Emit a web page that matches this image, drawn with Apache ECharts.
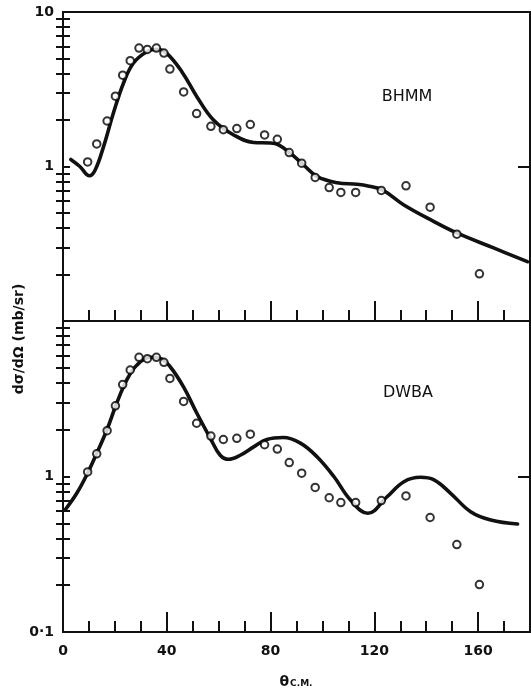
<!DOCTYPE html>
<html>
<head>
<meta charset="utf-8">
<script src="https://cdn.jsdelivr.net/npm/echarts@6/dist/echarts.min.js"></script>
<style>
html,body{margin:0;padding:0;background:#fff;}
#chart{width:531px;height:692px;}
</style>
</head>
<body>
<div id="chart"></div>
<script>
// experimental points (same data in both panels)
const thetaExp = [9.5,13,17,20.2,23,25.9,29.3,32.5,36,38.9,41.2,46.5,51.5,57,61.8,67,72.2,77.7,82.6,87.2,92,97.2,102.6,107.1,112.8,122.7,132.2,141.5,151.8,160.5];
const sigmaExp = [1.07,1.40,1.97,2.85,3.90,4.84,5.84,5.72,5.84,5.42,4.27,3.04,2.20,1.82,1.73,1.76,1.87,1.60,1.50,1.23,1.05,0.85,0.73,0.68,0.68,0.70,0.75,0.545,0.365,0.202];

// BHMM calculation (top panel)
const thetaBHMM = [3,6.5,10.2,12.4,15.6,19.4,23.3,27.1,32.3,36.2,40,45.8,51.6,58,65.8,73.5,80,83.1,87.6,92.8,98,105.7,113.4,118,123.1,131.4,143,152,166.2,179];
const sigmaBHMM = [1.11,1.0,0.871,0.95,1.34,2.21,3.46,4.66,5.53,5.74,5.40,4.11,2.83,2.00,1.60,1.43,1.42,1.38,1.22,1.02,0.859,0.785,0.767,0.745,0.705,0.563,0.44,0.37,0.296,0.242];

// DWBA calculation (bottom panel)
const thetaDWBA = [0.8,5.3,9.1,13,16.9,20.7,24.6,28.5,33.6,37.5,41.3,46.4,51.6,56.8,60.6,63.8,68.3,73.5,78.6,84.9,91.5,97.9,104.4,110.8,117.5,124.9,131.4,137.8,143,149.4,157.1,164.9,175.2];
const sigmaDWBA = [0.609,0.78,1.02,1.41,1.99,2.96,4.18,5.21,5.84,5.75,5.08,3.78,2.55,1.76,1.37,1.29,1.37,1.55,1.73,1.78,1.64,1.34,1.0,0.706,0.58,0.741,0.926,0.988,0.95,0.78,0.594,0.525,0.495];

// axis ticks
const xLabels = [0,40,80,120,160];
const xMajor = [40,80,120,160];
const xMinor = [10,20,30,50,60,70,90,100,110,130,140,150,170];
const yDecades = [0.1,1,10];
const yMinors = [0.2,0.3,0.4,0.5,0.6,0.7,0.8,0.9,2,3,4,5,6,7,8,9];
const yAll = [0.1,0.2,0.3,0.4,0.5,0.6,0.7,0.8,0.9,1,2,3,4,5,6,7,8,9,10];
const topYLabels = [1,10];
const bottomYLabels = [0.1,1];

const zip = (a,b) => a.map((v,i)=>[v,b[i]]);
const FONT = 'DejaVu Sans';
const INK = '#111';

function xAxes(g, showLabels){
  return [
    {type:'value', gridIndex:g, position:'bottom', min:0, max:180, interval:10,
     axisLine:{show:true, onZero:false, lineStyle:{color:INK,width:2}},
     axisTick:{show:true, inside:true, length:11, customValues:xMinor, lineStyle:{color:INK,width:2}},
     axisLabel:{show:showLabels, customValues:xLabels, margin:12, color:INK, fontFamily:FONT, fontWeight:'bold', fontSize:14},
     splitLine:{show:false}},
    {type:'value', gridIndex:g, position:'bottom', offset:0, min:0, max:180, interval:10,
     axisLine:{show:false, onZero:false},
     axisTick:{show:true, inside:true, length:20, customValues:xMajor, lineStyle:{color:INK,width:2}},
     axisLabel:{show:false}, splitLine:{show:false}}
  ];
}
function yAxes(g, labels){
  return [
    {type:'log', logBase:10, gridIndex:g, min:0.1, max:10, position:'left',
     axisLine:{show:true, lineStyle:{color:INK,width:2}},
     axisTick:{show:true, inside:true, length:7, customValues:yAll, lineStyle:{color:INK,width:2}},
     axisLabel:{show:true, customValues:labels, margin:9, color:INK, fontFamily:FONT, fontWeight:'bold', fontSize:14,
       formatter: v => (v < 0.5 ? '0·1' : String(Math.round(v)))},
     splitLine:{show:false}},
    {type:'log', logBase:10, gridIndex:g, min:0.1, max:10, position:'right',
     axisLine:{show:true, lineStyle:{color:INK,width:2}},
     axisTick:{show:true, inside:true, length:7, customValues:yMinors, lineStyle:{color:INK,width:2}},
     axisLabel:{show:false}, splitLine:{show:false}},
    {type:'log', logBase:10, gridIndex:g, min:0.1, max:10, position:'right', offset:0,
     axisLine:{show:false},
     axisTick:{show:true, inside:true, length:12, customValues:yDecades, lineStyle:{color:INK,width:2}},
     axisLabel:{show:false}, splitLine:{show:false}}
  ];
}

const lineStyle = {color:INK, width:3.6, cap:'round', join:'round'};
const pointStyle = {color:'#fff', borderColor:'#000', borderWidth:2};

const chart = echarts.init(document.getElementById('chart'), null, {renderer:'canvas'});
chart.setOption({
  animation:false,
  backgroundColor:'#fff',
  grid:[
    {left:63, top:12, width:467, height:309, show:true, borderColor:INK, borderWidth:2, backgroundColor:'transparent'},
    {left:63, top:321, width:467, height:311, show:true, borderColor:INK, borderWidth:2, backgroundColor:'transparent'}
  ],
  xAxis:[...xAxes(0,false), ...xAxes(1,true)],
  yAxis:[...yAxes(0,topYLabels), ...yAxes(1,bottomYLabels)],
  series:[
    {type:'line', xAxisIndex:0, yAxisIndex:0, data:zip(thetaBHMM,sigmaBHMM), smooth:0.4, showSymbol:false, symbol:'none', lineStyle, z:2},
    {type:'scatter', xAxisIndex:0, yAxisIndex:0, data:zip(thetaExp,sigmaExp), symbol:'circle', symbolSize:7.5, itemStyle:pointStyle, z:3},
    {type:'line', xAxisIndex:2, yAxisIndex:3, data:zip(thetaDWBA,sigmaDWBA), smooth:0.4, showSymbol:false, symbol:'none', lineStyle, z:2},
    {type:'scatter', xAxisIndex:2, yAxisIndex:3, data:zip(thetaExp,sigmaExp), symbol:'circle', symbolSize:7.5, itemStyle:pointStyle, z:3}
  ],
  graphic:[
    {type:'text', x:19, y:339, rotation:Math.PI/2,
     style:{text:'dσ/dΩ (mb/sr)', fill:INK, font:'bold 14px "DejaVu Sans"', align:'center', verticalAlign:'middle'}},
    {type:'text', x:407, y:97,
     style:{text:'BHMM', fill:INK, font:'16px "DejaVu Sans"', align:'center', verticalAlign:'middle'}},
    {type:'text', x:408, y:393,
     style:{text:'DWBA', fill:INK, font:'16px "DejaVu Sans"', align:'center', verticalAlign:'middle'}},
    {type:'text', x:296, y:682,
     style:{text:'{t|θ}{s|C.M.}', align:'center', verticalAlign:'middle',
       rich:{t:{fill:INK, font:'bold 14px "DejaVu Sans"'}, s:{fill:INK, font:'bold 9px "DejaVu Sans"', padding:[4,0,0,1]}}}}
  ]
});
</script>
</body>
</html>
